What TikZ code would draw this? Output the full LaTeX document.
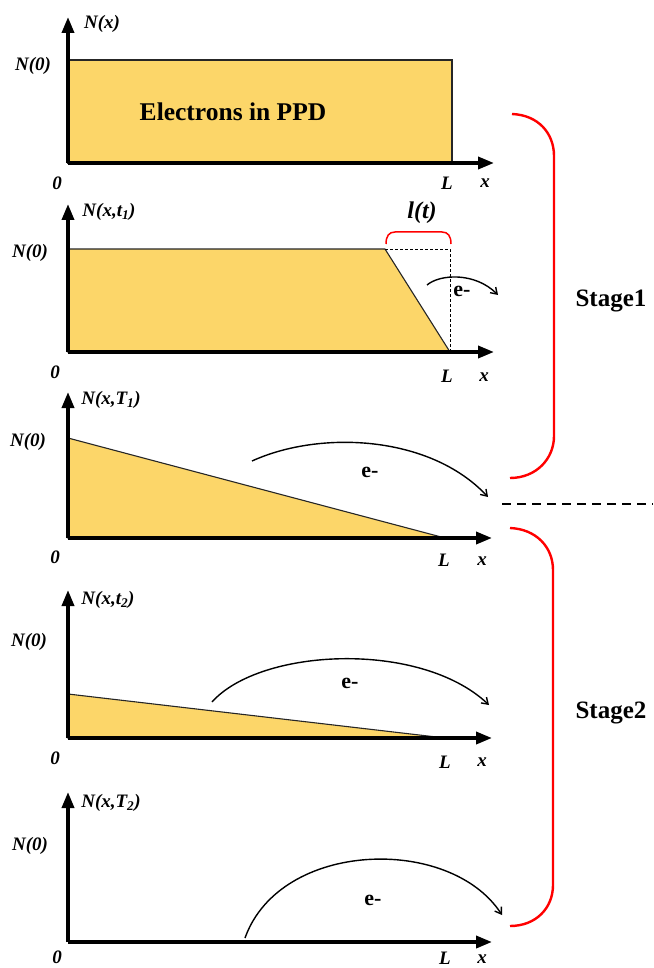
\documentclass[tikz,border=0pt]{standalone}
\usepackage{fontspec}
\setmainfont{Liberation Serif}
\usetikzlibrary{arrows.meta}
\definecolor{ppd}{RGB}{252,214,105}
\definecolor{bred}{RGB}{255,0,0}
\tikzset{
  axisline/.style={line width=3.6pt,-{Triangle[length=16pt,width=12pt]}},
  filled/.style={fill=ppd,draw=black!85,line width=1.1pt,line join=miter},
  flow/.style={line width=1.4pt,-{Straight Barb[length=6pt,width=8pt]}},
  lbl/.style={font=\fontsize{19}{19}\selectfont\bfseries\itshape,inner sep=0pt},
  elab/.style={font=\fontsize{22}{22}\selectfont\bfseries,inner sep=0pt},
  stagelab/.style={font=\fontsize{25}{25}\selectfont\bfseries,inner sep=0pt},
  bracecurve/.style={draw=bred,line width=2.4pt},
  guide/.style={dashed,line width=0.9pt,dash pattern=on 3pt off 2pt}
}
\begin{document}
\begin{tikzpicture}[x=1pt,y=-1pt]
\useasboundingbox (0,0) rectangle (653,968);
% ---------- panel 1 ----------
\coordinate (o1) at (68,163);
\coordinate (yt1) at (68,17);
\coordinate (xt1) at (494,163);
\fill[filled] (68,60) rectangle (452,163);
\draw[axisline] (o1) -- (yt1);
\draw[axisline] (o1) -- (xt1);
\node[lbl] (ny1) at (102,24) {N(x)};
\node[lbl] (nz1) at (33,66) {N(0)};
\node[lbl] (z1) at (57,183) {0};
\node[lbl] (L1) at (447,183) {L};
\node[lbl] (x1) at (485,183) {x};
\node[font=\fontsize{25.5}{25.5}\selectfont\bfseries,inner sep=0pt] (el) at (233,112) {Electrons in PPD};
% ---------- panel 2 ----------
\coordinate (o2) at (68,352);
\coordinate (yt2) at (68,204);
\coordinate (xt2) at (494,352);
\coordinate (k2) at (385,249);
\coordinate (e2) at (450,352);
\coordinate (c2) at (450,249);
\fill[filled] (68,352) -- (68,249) -- (k2) -- (e2) -- cycle;
\draw[guide] (k2) -- (c2) -- (e2);
\draw[axisline] (o2) -- (yt2);
\draw[axisline] (o2) -- (xt2);
\draw[draw=bred,line width=1.5pt] (386,244) .. controls (386,236) and (389,232) .. (395,232) -- (442,232) .. controls (448,232) and (451,236) .. (451,244);
\node[font=\fontsize{24}{24}\selectfont\bfseries\itshape,inner sep=0pt] (lt) at (422,213) {l(t)};
\coordinate (a2s) at (427,285);
\coordinate (a2e) at (498,295);
\draw[flow] (a2s) .. controls (440,274) and (475,272) .. (a2e);
\node[elab] (em2) at (462,291) {e-};
\node[lbl] (ny2) at (109,212) {N(x,t\textsubscript{1})};
\node[lbl] (nz2) at (30,253) {N(0)};
\node[lbl] (z2) at (55,372) {0};
\node[lbl] (L2) at (447,376) {L};
\node[lbl] (x2) at (484,377) {x};
% ---------- panel 3 ----------
\coordinate (o3) at (68,538);
\coordinate (yt3) at (68,392);
\coordinate (xt3) at (492,538);
\fill[filled] (68,538) -- (68,438) -- (445,538) -- cycle;
\draw[axisline] (o3) -- (yt3);
\draw[axisline] (o3) -- (xt3);
\coordinate (a3s) at (252,461);
\coordinate (a3e) at (488,497);
\draw[flow] (a3s) .. controls (320,430) and (430,435) .. (a3e);
\node[elab] (em3) at (370,472) {e-};
\node[lbl] (ny3) at (111,400) {N(x,T\textsubscript{1})};
\node[lbl] (nz3) at (28,442) {N(0)};
\node[lbl] (z3) at (55,557) {0};
\node[lbl] (L3) at (444,560) {L};
\node[lbl] (x3) at (482,561) {x};
% divider
\coordinate (d1) at (502,504);
\coordinate (d2) at (653,504);
\draw[line width=2.4pt,dash pattern=on 9pt off 6pt] (d1) -- (d2);
% ---------- panel 4 ----------
\coordinate (o4) at (68,738);
\coordinate (yt4) at (68,590);
\coordinate (xt4) at (492,738);
\fill[filled] (68,738) -- (68,694) -- (445,738) -- cycle;
\draw[axisline] (o4) -- (yt4);
\draw[axisline] (o4) -- (xt4);
\coordinate (a4s) at (212,702);
\coordinate (a4e) at (489,705);
\draw[flow] (a4s) .. controls (260,648) and (420,640) .. (a4e);
\node[elab] (em4) at (350,683) {e-};
\node[lbl] (ny4) at (108,600) {N(x,t\textsubscript{2})};
\node[lbl] (nz4) at (29,642) {N(0)};
\node[lbl] (z4) at (55,758) {0};
\node[lbl] (L4) at (445,762) {L};
\node[lbl] (x4) at (482,762) {x};
% ---------- panel 5 ----------
\coordinate (o5) at (68,942);
\coordinate (yt5) at (68,792);
\coordinate (xt5) at (492,942);
\draw[axisline] (o5) -- (yt5);
\draw[axisline] (o5) -- (xt5);
\coordinate (a5s) at (245,938);
\coordinate (a5e) at (502,915);
\draw[flow] (a5s) .. controls (280,840) and (450,835) .. (a5e);
\node[elab] (em5) at (373,900) {e-};
\node[lbl] (ny5) at (111,803) {N(x,T\textsubscript{2})};
\node[lbl] (nz5) at (30,846) {N(0)};
\node[lbl] (z5) at (57,957) {0};
\node[lbl] (L5) at (445,958) {L};
\node[lbl] (x5) at (482,959) {x};
% ---------- stage braces ----------
\coordinate (b1a) at (512,114);
\coordinate (b1b) at (510,478);
\draw[bracecurve] (b1a) .. controls (538,115) and (554,133) .. (554,156) -- (554,436) .. controls (554,459) and (536,478) .. (b1b);
\node[stagelab] (s1) at (611,301) {Stage1};
\coordinate (b2a) at (510,528);
\coordinate (b2b) at (510,926);
\draw[bracecurve] (b2a) .. controls (536,529) and (553,547) .. (553,570) -- (553,885) .. controls (553,908) and (536,926) .. (b2b);
\node[stagelab] (s2) at (611,713) {Stage2};
\end{tikzpicture}
\end{document}
